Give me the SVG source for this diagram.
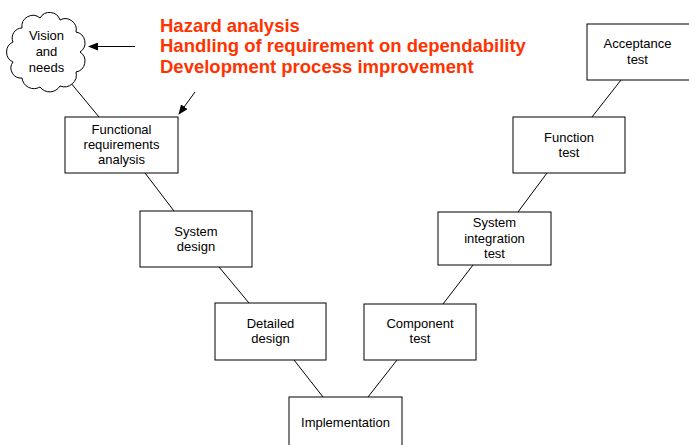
<svg xmlns="http://www.w3.org/2000/svg" width="689" height="445" viewBox="0 0 689 445">
<style>
.box{fill:#fff;stroke:#000;stroke-width:1}
.t{font-family:"Liberation Sans",Arial,sans-serif;font-size:13px;fill:#000;text-anchor:middle}
.red{font-family:"Liberation Sans",Arial,sans-serif;font-size:18.5px;font-weight:bold;fill:#ff3300}
.ln{stroke:#000;stroke-width:1;fill:none}
</style>
<defs>
<marker id="ah" markerWidth="10" markerHeight="8" refX="9" refY="4" orient="auto" markerUnits="userSpaceOnUse">
<path d="M0,0 L10,4 L0,8 Z" fill="#000"/>
</marker>
</defs>
<rect width="689" height="445" fill="#fff"/>
<g id="connectors">
<line class="ln" x1="70" y1="82" x2="99" y2="117"/>
<line class="ln" x1="145" y1="173" x2="174" y2="211"/>
<line class="ln" x1="219" y1="267" x2="249" y2="303"/>
<line class="ln" x1="294" y1="360" x2="323" y2="397"/>
<line class="ln" x1="397" y1="360" x2="368" y2="397"/>
<line class="ln" x1="473" y1="265" x2="443" y2="304"/>
<line class="ln" x1="547" y1="173" x2="518" y2="212"/>
<line class="ln" x1="621" y1="80" x2="592" y2="117"/>
<line class="ln" x1="135" y1="46.5" x2="89" y2="46.5" marker-end="url(#ah)"/>
<line class="ln" x1="195" y1="92" x2="179" y2="114" marker-end="url(#ah)"/>
</g>
<g id="vision">
<path class="box" d="M22,28 A11,11 0 0 1 40,18 A11,11 0 0 1 60,20 A11,11 0 0 1 76,32 A11,11 0 0 1 80,52 A11,11 0 0 1 76,72 A12,12 0 0 1 60,86 A12,12 0 0 1 40,87 A12,12 0 0 1 22,78 A10,10 0 0 1 13,62 A11,11 0 0 1 13,42 A10,10 0 0 1 22,28 Z"/>
<text class="t" x="46.5" y="40">Vision</text>
<text class="t" x="46.5" y="56">and</text>
<text class="t" x="46.5" y="72">needs</text>
</g>
<g id="notes">
<text class="red" x="160" y="31.7">Hazard analysis</text>
<text class="red" x="160" y="52.4">Handling of requirement on dependability</text>
<text class="red" x="160" y="73.1">Development process improvement</text>
</g>
<g id="fra">
<rect class="box" x="65" y="117" width="113" height="56"/>
<text class="t" x="121.5" y="134">Functional</text>
<text class="t" x="121.5" y="149">requirements</text>
<text class="t" x="121.5" y="164">analysis</text>
</g>
<g id="sysdesign">
<rect class="box" x="140" y="211" width="112" height="56"/>
<text class="t" x="196" y="236">System</text>
<text class="t" x="196" y="251">design</text>
</g>
<g id="detdesign">
<rect class="box" x="215" y="303" width="111" height="57"/>
<text class="t" x="270.5" y="328">Detailed</text>
<text class="t" x="270.5" y="343">design</text>
</g>
<g id="impl">
<rect class="box" x="289" y="397" width="113" height="56"/>
<text class="t" x="345.5" y="427">Implementation</text>
</g>
<g id="comptest">
<rect class="box" x="364" y="304" width="112" height="56"/>
<text class="t" x="420" y="327.5">Component</text>
<text class="t" x="420" y="342.5">test</text>
</g>
<g id="sittest">
<rect class="box" x="438" y="212" width="113" height="53"/>
<text class="t" x="494.5" y="227">System</text>
<text class="t" x="494.5" y="243">integration</text>
<text class="t" x="494.5" y="258">test</text>
</g>
<g id="functest">
<rect class="box" x="513" y="117" width="112" height="56"/>
<text class="t" x="569" y="142">Function</text>
<text class="t" x="569" y="157">test</text>
</g>
<g id="acctest">
<rect class="box" x="587" y="24" width="105" height="56"/>
<text class="t" x="637.5" y="48">Acceptance</text>
<text class="t" x="637.5" y="64">test</text>
</g>
</svg>
